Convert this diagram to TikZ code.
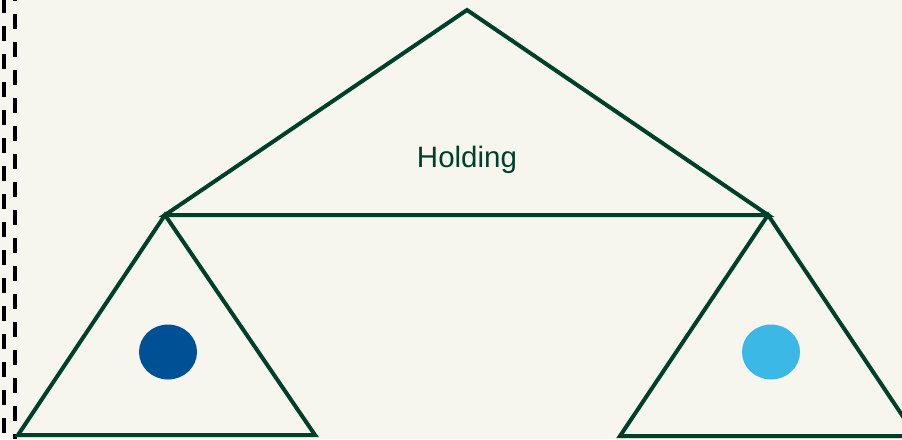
\documentclass[tikz,border=0pt]{standalone}
\usepackage{fontspec}
\setmainfont{Liberation Sans}
\definecolor{bgc}{HTML}{F7F6EE}
\definecolor{lineg}{HTML}{00402A}
\definecolor{dblue}{HTML}{005096}
\definecolor{lblue}{HTML}{3CB8E6}
\tikzset{
  tri/.style={draw=lineg, line width=4pt, line join=miter},
  sep/.style={draw=black, line width=3.6pt, dash pattern=on 15pt off 13pt},
  dot/.style={ellipse, minimum width=58pt, minimum height=55pt, inner sep=0pt}
}
\usetikzlibrary{shapes.geometric}
\begin{document}
\begin{tikzpicture}[x=1pt,y=-1pt]
\fill[bgc] (0,0) rectangle (902,439);
\useasboundingbox (0,0) rectangle (902,439);
\draw[sep] (4,-2) -- (4,439);
\draw[sep, dash phase=-14pt] (15,0) -- (15,439);
\draw[tri] (467,10) -- (165,215) -- (768,215) -- cycle;
\draw[tri] (165,215) -- (18,435) -- (315,435) -- cycle;
\draw[tri] (768,215) -- (620,436) -- (916,436) -- cycle;
\node[dot, fill=dblue] (d1) at (168,352) {};
\node[dot, fill=lblue] (d2) at (771,352) {};
\node[text=lineg, font=\fontsize{29.5}{34}\selectfont] (hold) at (467,160) {Holding};
\end{tikzpicture}
\end{document}
